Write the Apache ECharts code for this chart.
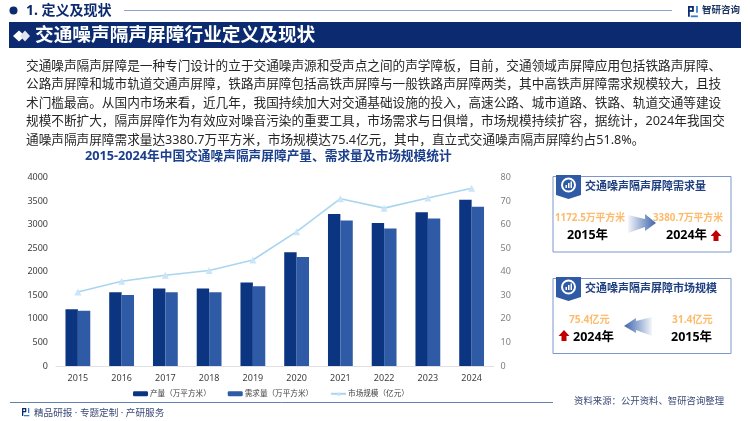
<!DOCTYPE html>
<html>
<head>
<meta charset="utf-8">
<style>
  html, body { margin: 0; padding: 0; background: #fff; }
  #main { width: 750px; height: 421px; }
</style>
</head>
<body>
<div id="main"></div>
<script src="https://cdn.jsdelivr.net/npm/echarts@6/dist/echarts.min.js"></script>
<script type="text/javascript">
  var years = ['2015', '2016', '2017', '2018', '2019', '2020', '2021', '2022', '2023', '2024'];
  var output = [1204, 1565, 1642, 1642, 1770, 2414, 3228, 3037, 3264, 3526];
  var demand = [1172.5, 1508, 1565, 1565, 1692, 2315, 3087, 2917, 3129, 3380.7];
  var market = [31.4, 36, 38.5, 40.5, 45, 57, 71, 67, 71.3, 75.4];
  var seriesNames = ['产量（万平方米）', '需求量（万平方米）', '市场规模（亿元）'];
  var bodyLines = [
    '交通噪声隔声屏障是一种专门设计的立于交通噪声源和受声点之间的声学障板，目前，交通领域声屏障应用包括铁路声屏障、',
    '公路声屏障和城市轨道交通声屏障，铁路声屏障包括高铁声屏障与一般铁路声屏障两类，其中高铁声屏障需求规模较大，且技',
    '术门槛最高。从国内市场来看，近几年，我国持续加大对交通基础设施的投入，高速公路、城市道路、铁路、轨道交通等建设',
    '规模不断扩大，隔声屏障作为有效应对噪音污染的重要工具，市场需求与日俱增，市场规模持续扩容，据统计，2024年我国交',
    '通噪声隔声屏障需求量达3380.7万平方米，市场规模达75.4亿元，其中，直立式交通噪声隔声屏障约占51.8%。'
  ];

  var font = '"Noto Sans", "Noto Sans CJK SC", sans-serif';
  var navy = '#0b2a6f';
  var orange = '#fdbb6b';
  var g = [];

  function text(x, y, str, size, color, weight, align) {
    g.push({
      type: 'text', x: x, y: y, z: 10,
      style: {
        text: str, fontSize: size, fill: color, fontFamily: font,
        fontWeight: weight || 'normal', align: align || 'left', verticalAlign: 'middle'
      }
    });
  }
  function rect(x, y, w, h, fill, stroke) {
    g.push({
      type: 'rect', shape: { x: x, y: y, width: w, height: h }, z: 5,
      style: { fill: fill, stroke: stroke || null, lineWidth: stroke ? 1 : 0 }
    });
  }
  function poly(points, fill) {
    g.push({ type: 'polygon', shape: { points: points }, z: 6, style: { fill: fill } });
  }
  function hline(x1, x2, y, color) {
    g.push({
      type: 'line', shape: { x1: x1, y1: y, x2: x2, y2: y }, z: 5,
      style: { stroke: color, lineWidth: 1 }
    });
  }
  function upArrow(cx, top) {
    poly([[cx, top], [cx + 5.5, top + 6], [cx + 2.5, top + 6], [cx + 2.5, top + 11],
      [cx - 2.5, top + 11], [cx - 2.5, top + 6], [cx - 5.5, top + 6]], '#c00000');
  }
  function logo(x, y, s, color) {
    rect(x, y, 4 * s, 1.3 * s, color);
    rect(x + 3 * s, y, 1.3 * s, 4 * s, color);
    rect(x, y + 3 * s, 4 * s, 1.3 * s, color);
    rect(x, y, 1.3 * s, 8 * s, color);
    rect(x + 6 * s, y, 1.3 * s, 5 * s, '#2f7fd0');
    rect(x + 2 * s, y + 7 * s, 5.3 * s, 1.3 * s, '#2f7fd0');
  }
  function ribbon(x, y) {
    poly([[x, y], [x + 25, y], [x + 25, y + 20], [x + 12.5, y + 24], [x, y + 20]], '#2f5aa6');
    g.push({
      type: 'circle', shape: { cx: x + 12.5, cy: y + 10, r: 6.5 }, z: 7,
      style: { fill: 'none', stroke: '#fff', lineWidth: 2 }
    });
    rect(x + 9.5, y + 10, 1.5, 3, '#fff');
    rect(x + 12, y + 8, 1.5, 5, '#fff');
    rect(x + 14.5, y + 6.5, 1.5, 6.5, '#fff');
    g[g.length - 1].z = g[g.length - 2].z = g[g.length - 3].z = 8;
  }

  // 页眉
  g.push({ type: 'circle', shape: { cx: 13.5, cy: 10.5, r: 4 }, z: 5, style: { fill: navy } });
  text(26, 11, '1. 定义及现状', 14, navy, 'bold');
  hline(124, 672, 10.5, '#8ea3cb');
  logo(688, 6, 1.35, navy);
  text(702, 10, '智研咨询', 9.5, '#1f3763', 'bold');

  // 标题条
  rect(9, 22, 732, 26, navy);
  poly([[13, 36], [19, 30.5], [25, 36], [19, 41.5]], '#fff');
  poly([[20, 36], [25, 30.5], [30, 36], [25, 41.5]], '#dfe5f1');
  text(35, 35.5, '交通噪声隔声屏障行业定义及现状', 18.7, '#fff', 'bold');

  // 正文
  var lineY = [66, 84.5, 103, 121.5, 140.5];
  for (var i = 0; i < bodyLines.length; i++) {
    text(26, lineY[i], bodyLines[i], 12.65, '#262626');
  }

  // 页脚
  hline(10, 553, 402.5, '#5f7fb5');
  logo(22, 408, 1, navy);
  text(34, 413, '精品研报 · 专题定制 · 产研服务', 9.6, '#3b4a78');
  text(574, 401.5, '资料来源：公开资料、智研咨询整理', 9.4, '#3b4a78');

  // 需求量卡片
  rect(553, 176.5, 178, 75.5, '#fff', '#7d97c9');
  ribbon(556, 175);
  text(585, 187, '交通噪声隔声屏障需求量', 11, '#1f3f80', 'bold');
  text(555, 218.5, '1172.5万平方米', 9.8, orange, 'bold');
  text(653, 218.5, '3380.7万平方米', 9.8, orange, 'bold');
  text(567, 235.5, '2015年', 12.5, '#000', 'bold');
  text(666, 235.5, '2024年', 12.5, '#000', 'bold');
  upArrow(716, 230);
  poly([[628, 215], [645, 219], [645, 214], [656, 223], [645, 231], [645, 227], [628, 233]], {
    type: 'linear', x: 0, y: 0, x2: 1, y2: 0,
    colorStops: [{ offset: 0, color: 'rgba(47,90,166,0.05)' }, { offset: 1, color: '#3f66ad' }]
  });

  // 市场规模卡片
  rect(553, 278.5, 178, 75, '#fff', '#7d97c9');
  ribbon(556, 277);
  text(585, 289, '交通噪声隔声屏障市场规模', 11, '#1f3f80', 'bold');
  text(569, 320.5, '75.4亿元', 10.2, orange, 'bold');
  text(672, 320.5, '31.4亿元', 10.2, orange, 'bold');
  text(573, 337, '2024年', 12.5, '#000', 'bold');
  text(671, 337, '2015年', 12.5, '#000', 'bold');
  upArrow(564, 330);
  poly([[652, 317], [636, 321], [636, 318], [624, 326], [636, 333], [636, 330], [652, 336]], {
    type: 'linear', x: 0, y: 0, x2: 1, y2: 0,
    colorStops: [{ offset: 0, color: '#3f66ad' }, { offset: 1, color: 'rgba(47,90,166,0.05)' }]
  });

  var myChart = echarts.init(document.getElementById('main'), null, { renderer: 'canvas' });

  var option = {
    animation: false,
    backgroundColor: '#fff',
    textStyle: { fontFamily: font },
    title: {
      text: '2015-2024年中国交通噪声隔声屏障产量、需求量及市场规模统计',
      left: 85, top: 150, padding: 0,
      textStyle: { fontSize: 12.7, fontWeight: 'bold', color: '#1b3f8b', fontFamily: font }
    },
    grid: { left: 56, top: 177.5, width: 437.5, height: 188.5 },
    legend: {
      top: 390, left: 133, padding: 0, itemGap: 17,
      textStyle: { fontSize: 7.6, color: '#404040', fontFamily: font, padding: [0, 0, 0, -3] },
      data: [
        { name: seriesNames[0], itemStyle: { color: '#0b3481' } },
        { name: seriesNames[1], itemStyle: { color: '#2f5aa6' } },
        { name: seriesNames[2] }
      ],
      itemWidth: 15, itemHeight: 5
    },
    xAxis: {
      type: 'category', data: years,
      axisTick: { show: false },
      axisLine: { lineStyle: { color: '#e0e0e0' } },
      axisLabel: { color: '#404040', fontSize: 9, margin: 8 }
    },
    yAxis: [
      {
        type: 'value', min: 0, max: 4000, interval: 500,
        splitLine: { show: false }, axisLine: { show: false }, axisTick: { show: false },
        axisLabel: {
          color: '#404040', fontSize: 9, margin: 8,
          formatter: function (v) { return String(v); }
        }
      },
      {
        type: 'value', min: 0, max: 80, interval: 10,
        splitLine: { show: false }, axisLine: { show: false }, axisTick: { show: false },
        axisLabel: { color: '#7f7f7f', fontSize: 9, margin: 7 }
      }
    ],
    series: [
      {
        name: seriesNames[0], type: 'bar', data: output,
        barWidth: 12.4, barGap: 0, itemStyle: { color: '#0b3481' }
      },
      {
        name: seriesNames[1], type: 'bar', data: demand,
        barWidth: 12.4, barGap: 0, itemStyle: { color: '#2f5aa6' }
      },
      {
        name: seriesNames[2], type: 'line', yAxisIndex: 1, data: market,
        symbol: 'triangle', symbolSize: 7, showSymbol: true,
        lineStyle: { color: '#a9d5f0', width: 1.6 },
        itemStyle: { color: '#c9e5f7' }
      }
    ],
    graphic: g
  };

  myChart.setOption(option);
</script>
</body>
</html>
